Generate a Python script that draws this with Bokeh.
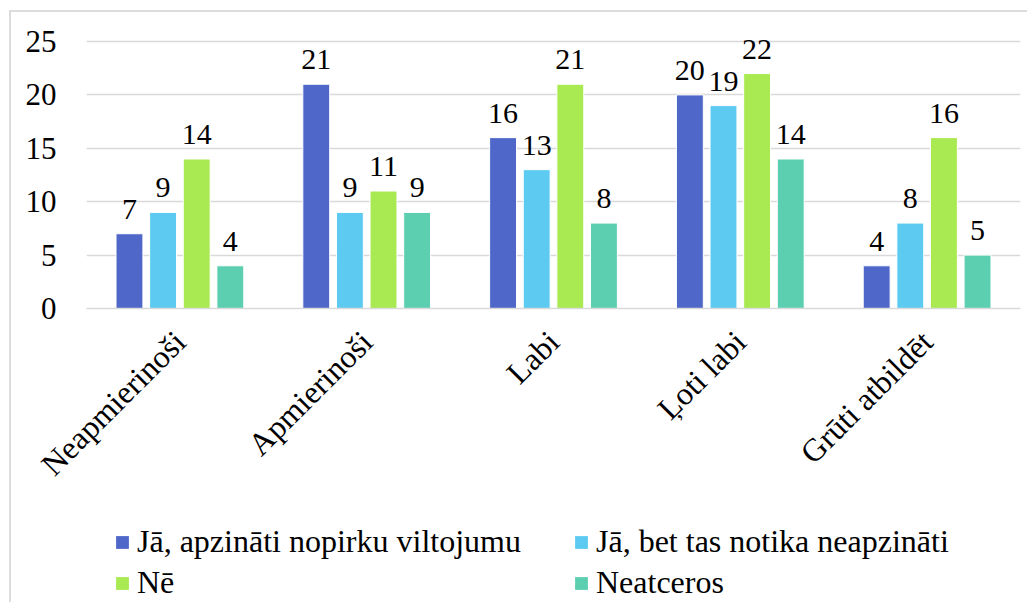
import math
from bokeh.plotting import figure
from bokeh.layouts import column
from bokeh.models import ColumnDataSource, FactorRange, Legend, LegendItem, Range1d
from bokeh.transform import dodge
from bokeh.core.properties import value
from bokeh.embed import file_html
from bokeh.resources import INLINE

categories = ["Neapmierinoši", "Apmierinoši", "Labi", "Ļoti labi", "Grūti atbildēt"]
series_names = ["Jā, apzināti nopirku viltojumu", "Jā, bet tas notika neapzināti", "Nē", "Neatceros"]
s1 = [7, 21, 16, 20, 4]
s2 = [9, 9, 13, 19, 8]
s3 = [14, 11, 21, 22, 16]
s4 = [4, 9, 8, 14, 5]
colors = ["#4F67C8", "#5DCBF1", "#A9E951", "#5DCFB1"]
y_ticks = [0, 5, 10, 15, 20, 25]

FONT = "Liberation Serif"

src = ColumnDataSource(dict(cat=categories, s1=s1, s2=s2, s3=s3, s4=s4,
                            l1=[str(v) for v in s1], l2=[str(v) for v in s2],
                            l3=[str(v) for v in s3], l4=[str(v) for v in s4]))

# y range extends a little above 25 so the tallest bar labels are not clipped
p = figure(x_range=FactorRange(*categories, range_padding=0), y_range=Range1d(0, 26.5),
           width=1027, height=520, output_backend="svg", toolbar_location=None,
           min_border_left=86, min_border_right=7, min_border_top=25, min_border_bottom=212)
p.border_fill_alpha = 0
p.background_fill_color = "white"
p.outline_line_color = None
p.xgrid.grid_line_color = None
p.ygrid.grid_line_color = "#d9d9d9"
p.ygrid.grid_line_width = 1.5
p.yaxis.ticker = y_ticks
p.yaxis.axis_line_color = None
p.yaxis.major_tick_line_color = None
p.yaxis.minor_tick_line_color = None
p.yaxis.major_label_text_font = FONT
p.yaxis.major_label_text_font_size = "31px"
p.yaxis.major_label_text_color = "#000000"
p.yaxis.major_label_standoff = 24
p.xaxis.axis_line_color = "#d9d9d9"
p.xaxis.axis_line_width = 1.5
p.xaxis.major_tick_line_color = None
p.xaxis.minor_tick_line_color = None
p.xaxis.major_label_orientation = math.pi / 4
p.xaxis.major_label_text_font = FONT
p.xaxis.major_label_text_font_size = "32px"
p.xaxis.major_label_text_color = "#000000"
p.xaxis.major_label_standoff = 22

offsets = [-0.27, -0.09, 0.09, 0.27]
keys = ["s1", "s2", "s3", "s4"]
labs = ["l1", "l2", "l3", "l4"]
for k, lab, off, c in zip(keys, labs, offsets, colors):
    p.vbar(x=dodge("cat", off, range=p.x_range), top=k, width=0.144, source=src,
           fill_color=c, line_color="white", line_width=1)
    p.text(x=dodge("cat", off, range=p.x_range), y=k, text=lab, source=src,
           text_font=value(FONT), text_font_size="30px", text_color="#000000",
           text_align="center", text_baseline="bottom", y_offset=-15)

# legend panel below the chart
p2 = figure(width=1027, height=82, output_backend="svg", toolbar_location=None,
            x_range=Range1d(0, 1), y_range=Range1d(0, 1),
            x_axis_location=None, y_axis_location=None,
            min_border_left=0, min_border_right=0, min_border_top=0, min_border_bottom=0)
p2.border_fill_alpha = 0
p2.background_fill_alpha = 0
p2.outline_line_color = None
p2.grid.visible = False
# legend keys only: zero-height bars, nothing visible is drawn
leg_renderers = [p2.vbar(x=[0.5], top=[0], bottom=[0], width=0.1, fill_color=c, line_color=None)
                 for c in colors]
order = [0, 2, 1, 3]  # column-major fill -> rows read (1, 2) / (3, 4)
items = [LegendItem(label=series_names[i], renderers=[leg_renderers[i]]) for i in order]
legend = Legend(items=items, location=(28, 1), ncols=2,
                label_text_font=FONT, label_text_font_size="32px", label_text_color="#000000",
                glyph_width=16, glyph_height=16, label_standoff=7, label_width=432,
                label_height=30, spacing=4, padding=0, margin=0,
                background_fill_alpha=0, border_line_color=None)
p2.add_layout(legend, "center")

layout = column(p, p2, spacing=0, styles={
    "background-image": "linear-gradient(#dcdcdc, #dcdcdc), linear-gradient(#dcdcdc, #dcdcdc)",
    "background-size": "2px 100%, 100% 2px",
    "background-position": "9px 10px, 9px 10px",
    "background-repeat": "no-repeat",
})
open("out.html", "w").write(file_html(layout, INLINE))
